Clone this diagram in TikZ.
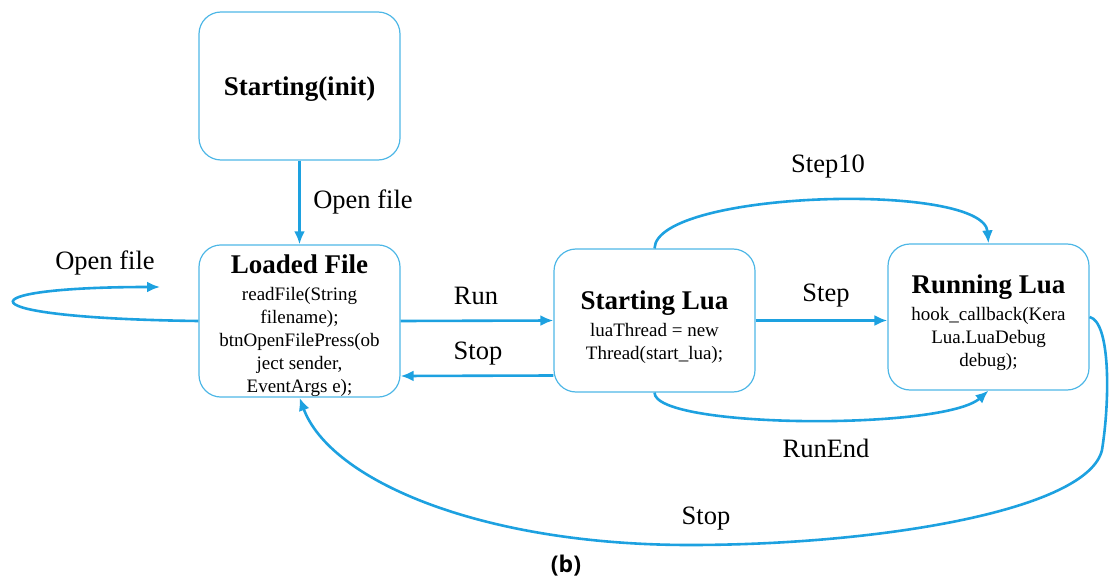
\documentclass[tikz,border=0pt]{standalone}
\usepackage{fontspec}
\setmainfont{Liberation Serif}
\newfontfamily\capfont{Open Sans}
\usetikzlibrary{arrows.meta,calc}
\definecolor{lineblue}{RGB}{29,161,224}
\definecolor{boxblue}{RGB}{78,183,230}
\begin{document}
\begin{tikzpicture}[x=1pt,y=-1pt,
  state/.style={draw=boxblue,line width=1.2pt,rounded corners=22pt,minimum width=201pt,inner sep=0pt,align=center,font=\fontsize{19}{23}\selectfont},
  conn/.style={draw=lineblue,line width=2.6pt,-{Latex[length=13pt,width=11pt]}},
  lbl/.style={font=\fontsize{26.5}{30}\selectfont,inner sep=0pt}]
\useasboundingbox (0,0) rectangle (1109,583);

\node[state,minimum height=148pt] (init) at (299.5,86) {\rule{0pt}{25pt}{\fontsize{27}{30}\selectfont\bfseries Starting(init)}};
\node[state,minimum height=144pt] (loaded) at (299.5,321) {\rule{0pt}{29pt}{\fontsize{27}{30}\selectfont\bfseries Loaded File}\\[4pt] readFile(String\\ filename);\\ btnOpenFilePress(ob\\ ject sender,\\ EventArgs e);};
\node[state,minimum height=143pt] (slua) at (654.5,320.5) {\rule{0pt}{32pt}{\fontsize{27}{30}\selectfont\bfseries Starting Lua}\\[4pt] luaThread = new\\ Thread(start\_lua);};
\node[state,minimum height=146pt] (rlua) at (988.5,317) {\rule{0pt}{31pt}{\fontsize{27}{30}\selectfont\bfseries Running Lua}\\[4pt] hook\_callback(Kera\\ Lua.LuaDebug\\ debug);};

\coordinate (loopend) at (160,287);
\coordinate (s1) at (1102,450);
\coordinate (s2) at (690,545);

\draw[conn] (init) -- (loaded);
\draw[conn] (loaded.east) -- (slua.west);
\draw[conn] ($(slua.west)+(0,55)$) -- ($(loaded.east)+(0,55)$);
\draw[conn] (slua.east) -- (slua.east -| rlua.west);
\draw[conn] (slua.north) .. controls +(2,-58) and +(-5,-62) .. (rlua.north);
\draw[conn] (slua.south) .. controls +(0,36) and +(-45,40) .. (rlua.south);
\draw[conn] (rlua.east) .. controls +(21,5) and (1110,400) .. (s1) .. controls (1088,510) and (880,545) .. (s2) .. controls (480,545) and (330,480) .. (loaded.south);
\draw[conn] (loaded.west) .. controls (-42,318) and (-38,287) .. (loopend);

\node[lbl] (lopen1) at (363,202) {Open file};
\node[lbl] (lopen2) at (105,263) {Open file};
\node[lbl] (lrun) at (476,296) {Run};
\node[lbl] (lstop1) at (478,354) {Stop};
\node[lbl] (lstep) at (826,296) {Step};
\node[lbl] (lstep10) at (828,167) {Step10};
\node[lbl] (lrunend) at (826,448) {RunEnd};
\node[lbl] (lstop2) at (706,519) {Stop};
\node[font=\capfont\bfseries\fontsize{23}{25}\selectfont,inner sep=0pt] (cap) at (566,566) {(b)};
\end{tikzpicture}
\end{document}
